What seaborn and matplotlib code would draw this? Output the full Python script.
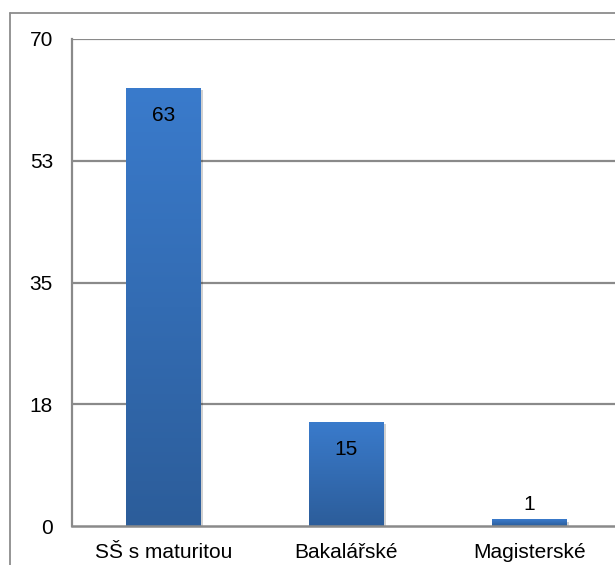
import numpy as np
import pandas as pd
import matplotlib
matplotlib.use("Agg")
import matplotlib.pyplot as plt
import matplotlib.patheffects as pe
from matplotlib.lines import Line2D
import seaborn as sns

categories = ["SŠ s maturitou", "Bakalářské", "Magisterské"]
counts = [63, 15, 1]
tick_values = [0, 17.5, 35, 52.5, 70]
tick_labels = ["0", "18", "35", "53", "70"]

FS = 15

sns.set_theme(style="white")
plt.rcParams["font.family"] = ["Liberation Sans", "DejaVu Sans"]

W, H = 615, 565
fig = plt.figure(figsize=(W / 100, H / 100), dpi=100)
# plot area spans three category slots; the last one runs past the right edge
ax = fig.add_axes([72 / W, 39 / H, 549 / W, 487 / H])

df = pd.DataFrame({"cat": categories, "n": counts})
sns.barplot(data=df, x="cat", y="n", ax=ax, color="#3a7bcc", width=0.405,
            saturation=1, zorder=3)

ax.set_ylim(0, 70)
ax.set_xlim(-0.5, 2.5)
ax.set_yticks(tick_values)
ax.set_yticklabels(tick_labels)
ax.set_xlabel("")
ax.set_ylabel("")
ax.tick_params(axis="y", length=0, pad=13.7, labelsize=FS, colors="black")
ax.tick_params(axis="x", length=0, pad=12, labelsize=FS, colors="black")

# horizontal gridlines, including the top one at 70
for v in tick_values[1:]:
    ax.axhline(v, color="#8a8a8a", lw=1.6, zorder=1)
for side in ["top", "right"]:
    ax.spines[side].set_visible(False)
ax.spines["left"].set_color("#8a8a8a")
ax.spines["left"].set_linewidth(1.6)
ax.spines["bottom"].set_color("#8a8a8a")
ax.spines["bottom"].set_linewidth(1.8)
ax.spines["bottom"].set_zorder(5)

# vertical gradient fill on each bar, lighter at the top
grad = np.linspace(0, 1, 256).reshape(-1, 1)
cmap = matplotlib.colors.LinearSegmentedColormap.from_list(
    "bar", ["#2c5d9a", "#3a7bcc"])
for patch in ax.patches:
    patch.set_edgecolor("none")
    patch.set_path_effects([pe.SimplePatchShadow(offset=(2, -2), shadow_rgbFace="#000000",
                                                 alpha=0.18), pe.Normal()])
    x0, y0 = patch.get_x(), patch.get_y()
    w, h = patch.get_width(), patch.get_height()
    im = ax.imshow(grad, cmap=cmap, origin="lower", aspect="auto",
                   extent=[x0, x0 + w, y0, y0 + h], zorder=4)
    im.set_clip_path(patch)
ax.set_xlim(-0.5, 2.5)
ax.set_ylim(0, 70)

# value labels: inside near the top where the bar is tall enough, else above
for i, v in enumerate(counts):
    dy = -24 if v > 5 else 6.5
    ax.annotate(str(v), (i, v), xytext=(0, dy), textcoords="offset points",
                ha="center", va="baseline", fontsize=FS, color="black", zorder=6)

# outer chart frame, open toward the right and bottom
fig.add_artist(Line2D([10 / W, 10 / W], [0, 1 - 13 / H], transform=fig.transFigure,
                      color="#8c8c8c", lw=1.3))
fig.add_artist(Line2D([10 / W, 1], [1 - 13 / H, 1 - 13 / H], transform=fig.transFigure,
                      color="#8c8c8c", lw=1.3))

fig.savefig("out.png", dpi=100)
